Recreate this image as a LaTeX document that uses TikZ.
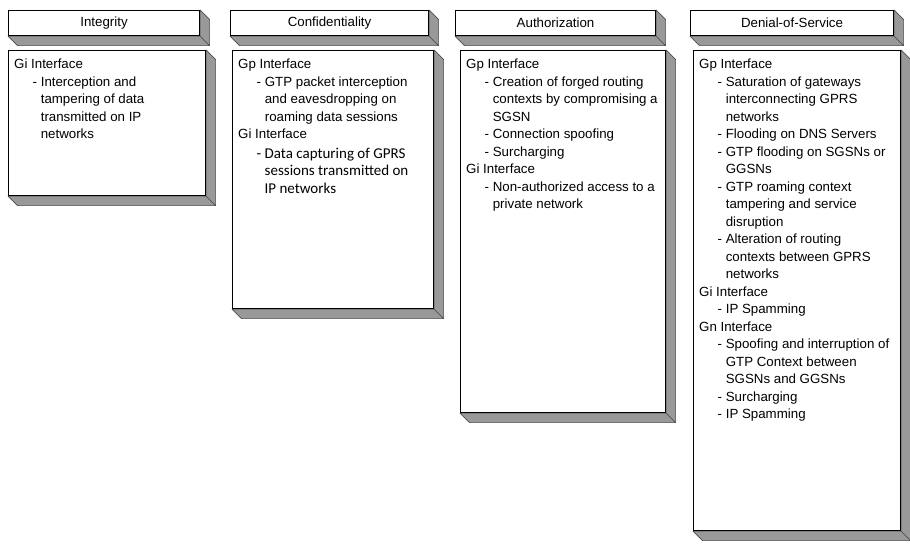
\documentclass[tikz,border=0pt]{standalone}
\usepackage{fontspec}
\setmainfont{Liberation Sans}
\newfontfamily\patchfont{Carlito}
\usetikzlibrary{backgrounds}

% one threat per line, with its hanging continuation
\newcommand\itm[1]{\hspace*{18.5pt}- #1}
\newcommand\more[1]{\hspace*{18.5pt}\phantom{- }#1}

\tikzset{
  front/.style={draw=black, fill=white, line width=1.1pt, inner sep=0pt, anchor=north west},
  face/.style={fill=black!40, draw=black!70, line width=0.6pt, line join=round},
  title/.style={font=\fontsize{13.3}{16}\selectfont},
  items/.style={anchor=north west, align=left, inner sep=0pt, font=\fontsize{13.3}{17.5}\selectfont}
}

\begin{document}
\begin{tikzpicture}[x=1pt, y=-1pt]
% Parameters
\def\depth{9.5}
\useasboundingbox (0,0) rectangle (910,548);

% Column headers
\node[front, title, minimum width=191pt, minimum height=25pt] (inthead) at (8,10) {Integrity};
\node[front, title, minimum width=198pt, minimum height=25pt] (confhead) at (230,10) {Confidentiality};
\node[front, title, minimum width=200pt, minimum height=25pt] (authhead) at (455,10) {Authorization};
\node[front, title, minimum width=203pt, minimum height=25pt] (doshead) at (690,10) {Denial-of-Service};

% Column bodies
\node[front, minimum width=197pt, minimum height=145pt] (intbody) at (8,50) {};
\node[front, minimum width=201pt, minimum height=258pt] (confbody) at (232,50) {};
\node[front, minimum width=205pt, minimum height=362pt] (authbody) at (460,50) {};
\node[front, minimum width=207pt, minimum height=480pt] (dosbody) at (693,50) {};

% Threat lists
\node[items] (inttext) at ([shift={(6,9)}]intbody.north west) {Gi Interface\\
  \itm{Interception and}\\
  \more{tampering of data}\\
  \more{transmitted on IP}\\
  \more{networks}};

\node[items] (conftext) at ([shift={(6,9)}]confbody.north west) {Gp Interface\\
  \itm{GTP packet interception}\\
  \more{and eavesdropping on}\\
  \more{roaming data sessions}\\
  Gi Interface\\[2pt]
  {\patchfont\fontsize{15}{18}\selectfont\itm{Data capturing of GPRS}}\\
  {\patchfont\fontsize{15}{18}\selectfont\more{sessions transmitted on}}\\
  {\patchfont\fontsize{15}{18}\selectfont\more{IP networks}}};

\node[items] (authtext) at ([shift={(6,9)}]authbody.north west) {Gp Interface\\
  \itm{Creation of forged routing}\\
  \more{contexts by compromising a}\\
  \more{SGSN}\\
  \itm{Connection spoofing}\\
  \itm{Surcharging}\\
  Gi Interface\\
  \itm{Non-authorized access to a}\\
  \more{private network}};

\node[items] (dostext) at ([shift={(6,9)}]dosbody.north west) {Gp Interface\\
  \itm{Saturation of gateways}\\
  \more{interconnecting GPRS}\\
  \more{networks}\\
  \itm{Flooding on DNS Servers}\\
  \itm{GTP flooding on SGSNs or}\\
  \more{GGSNs}\\
  \itm{GTP roaming context}\\
  \more{tampering and service}\\
  \more{disruption}\\
  \itm{Alteration of routing}\\
  \more{contexts between GPRS}\\
  \more{networks}\\
  Gi Interface\\
  \itm{IP Spamming}\\
  Gn Interface\\
  \itm{Spoofing and interruption of}\\
  \more{GTP Context between}\\
  \more{SGSNs and GGSNs}\\
  \itm{Surcharging}\\
  \itm{IP Spamming}};

% Shaded sides of every slab
\begin{scope}[on background layer]
\foreach \slab in {inthead,intbody,confhead,confbody,authhead,authbody,doshead,dosbody} {
    % bottom side
    \filldraw[face] (\slab.south west) -- (\slab.south east)
        -- ([shift={(\depth,\depth)}]\slab.south east)
        -- ([shift={(\depth,\depth)}]\slab.south west) -- cycle;
    % right side
    \filldraw[face] (\slab.north east) -- ([shift={(\depth,\depth)}]\slab.north east)
        -- ([shift={(\depth,\depth)}]\slab.south east) -- (\slab.south east) -- cycle;
}
\end{scope}
\end{tikzpicture}
\end{document}
